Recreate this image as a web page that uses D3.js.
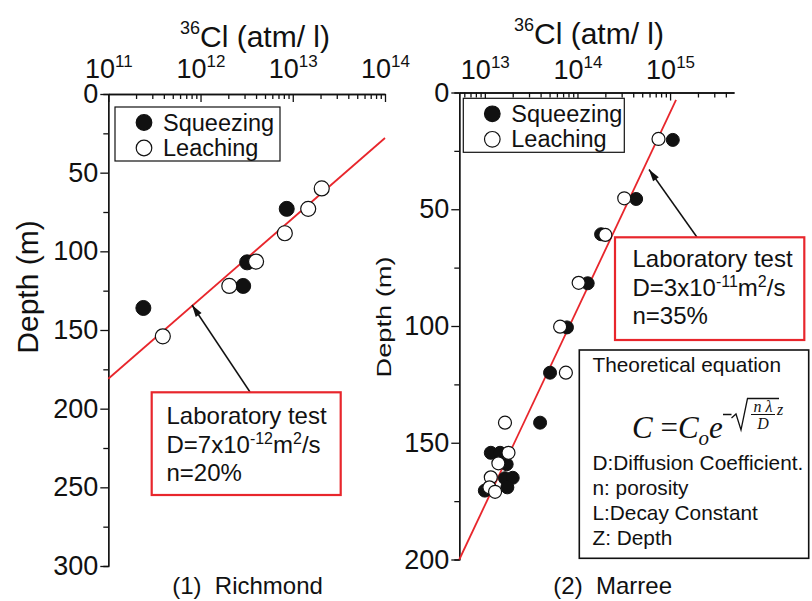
<!doctype html>
<meta charset="utf-8">
<body style="margin:0;background:#fff">

<div id="chart"></div>

<script src="https://d3js.org/d3.v7.min.js"></script>
<script>

// 36Cl concentration (atm/l) vs depth (m)

// (1) Richmond
const richmondSqueezing = [[8.6e12, 73], [3.2e12, 107], [2.9e12, 122], [2.4e11, 136]]
const richmondLeaching = [[2.06e13, 60], [1.47e13, 73], [8.2e12, 88.5], [4.0e12, 106.5], [2.05e12, 122], [3.9e11, 154]]
const richmondFit = [[1e11, 181], [1e14, 28]]
const richmondXTicks = [1e11, 1e12, 1e13, 1e14]
const richmondDepthTicks = [0, 50, 100, 150, 200, 250, 300]

// (2) Marree
const marreeSqueezing = [
  [1.07e15, 20.3], [4.3e14, 45.6], [1.8e14, 60.7], [1.29e14, 81.7], [7.7e13, 100.6],
  [5.06e13, 120], [3.95e13, 141.4], [1.16e13, 154.3], [1.46e13, 154.3], [1.72e13, 159.2],
  [1.65e13, 165.2], [2.0e13, 165], [1.75e13, 169.1], [1.0e13, 170.5]
]
const marreeLeaching = [
  [7.5e14, 19.9], [3.2e14, 45.3], [2.0e14, 61], [1.03e14, 81.5], [6.5e13, 100.3],
  [7.5e13, 120], [1.65e13, 141.4], [1.8e13, 154.3], [1.4e13, 158.8], [1.16e13, 164.8],
  [1.12e13, 169.1], [1.29e13, 171]
]
const marreeFit = [[5.3e12, 200], [1.16e15, 3.2]]
const marreeXTicks = [1e13, 1e14, 1e15]
const marreeDepthTicks = [0, 50, 100, 150, 200]

const RED = "#e8262c"

const svg = d3.select("#chart").append("svg")
  .attr("width", 812)
  .attr("height", 601)
  .style("font-family", "'Liberation Sans', Arial, Helvetica, sans-serif")

const defs = svg.append("defs")
defs.append("marker")
  .attr("id", "arrow")
  .attr("viewBox", "0 0 12 10")
  .attr("refX", 12).attr("refY", 5)
  .attr("markerWidth", 13).attr("markerHeight", 10)
  .attr("markerUnits", "userSpaceOnUse")
  .attr("orient", "auto")
  .append("path")
  .attr("d", "M0,1.5 L12,5 L0,8.5 Z")
  .attr("fill", "#111")

function isPow10(v) {
  const l = Math.log10(v)
  return Math.abs(l - Math.round(l)) < 1e-9
}

function drawPanel(p) {
  const x = d3.scaleLog().domain(p.xDomain).range(p.xRange)
  const y = d3.scaleLinear().domain(p.yDomain).range(p.yRange)
  const g = svg.append("g")

  // top log axis, ticks pointing into the plot
  const minor = x.ticks().filter(v => !isPow10(v))
  g.append("g")
    .attr("transform", `translate(0,${p.yRange[0]})`)
    .call(d3.axisTop(x).tickValues(minor).tickSizeInner(-5).tickSizeOuter(0).tickFormat(""))
  const top = g.append("g")
    .attr("transform", `translate(0,${p.yRange[0]})`)
    .call(d3.axisTop(x).tickValues(p.xTicks).tickSizeInner(-8).tickSizeOuter(0).tickPadding(p.xPad).tickFormat(""))
  top.selectAll(".tick text")
    .attr("font-size", 27)
    .attr("fill", "#111")
    .each(function (d) {
      const t = d3.select(this)
      t.append("tspan").text("10")
      t.append("tspan").attr("dy", -11).attr("font-size", 17).text(Math.round(Math.log10(d)))
    })

  // depth axis
  const yMinor = d3.range(25, p.yDomain[1], 50)
  g.append("g")
    .attr("transform", `translate(${p.xRange[0]},0)`)
    .call(d3.axisLeft(y).tickValues(yMinor).tickSize(5).tickFormat(""))
  g.append("g")
    .attr("transform", `translate(${p.xRange[0]},0)`)
    .call(d3.axisLeft(y).tickValues(p.yTicks).tickSize(8).tickSizeOuter(0).tickPadding(2))
    .selectAll(".tick text")
    .attr("font-size", 27)
    .attr("fill", "#111")

  g.selectAll(".domain, .tick line").attr("stroke", "#111").attr("stroke-width", 1.3)

  // axis titles
  const title = g.append("text")
    .attr("x", p.titleX).attr("y", p.titleY)
    .attr("text-anchor", "middle")
    .attr("font-size", 30)
    .attr("fill", "#111")
  title.append("tspan").attr("font-size", 18).attr("dy", -13).text("36")
  title.append("tspan").attr("dy", 13).text("Cl (atm/ l)")

  const ylab = g.append("text")
    .attr("transform", `translate(${p.yLabX},${p.yLabY}) rotate(-90)`)
    .attr("text-anchor", "middle")
    .attr("font-size", p.yLabSize)
    .attr("fill", "#111")
    .text("Depth (m)")
  if (p.yLabLen) ylab.attr("textLength", p.yLabLen).attr("lengthAdjust", "spacingAndGlyphs")

  // fitted line
  g.append("path")
    .datum(p.fit)
    .attr("d", d3.line().x(d => x(d[0])).y(d => y(d[1])))
    .attr("stroke", RED)
    .attr("stroke-width", 1.8)
    .attr("fill", "none")

  // points
  g.append("g").selectAll("circle")
    .data(p.squeezing)
    .join("circle")
    .attr("cx", d => x(d[0]))
    .attr("cy", d => y(d[1]))
    .attr("r", p.r)
    .attr("fill", "#111")
    .attr("stroke", "#111")
    .attr("stroke-width", 1)
  g.append("g").selectAll("circle")
    .data(p.leaching)
    .join("circle")
    .attr("cx", d => x(d[0]))
    .attr("cy", d => y(d[1]))
    .attr("r", p.r)
    .attr("fill", "#fff")
    .attr("stroke", "#111")
    .attr("stroke-width", 1.2)

  // legend
  const lg = g.append("g").attr("transform", `translate(${p.legend[0]},${p.legend[1]})`)
  lg.append("rect").attr("width", p.legend[2]).attr("height", 54)
    .attr("fill", "#fff").attr("stroke", "#111").attr("stroke-width", 1.2)
  const items = [["Squeezing", "#111"], ["Leaching", "#fff"]]
  items.forEach(([name, fill], i) => {
    lg.append("circle").attr("cx", 29).attr("cy", 15.5 + i * 25.5).attr("r", 7.8)
      .attr("fill", fill).attr("stroke", "#111").attr("stroke-width", 1.2)
    lg.append("text").attr("x", 48).attr("y", 23.5 + i * 25.5)
      .attr("font-size", 23.5).attr("fill", "#111").text(name)
  })

  // annotation box with arrow
  const a = p.note
  g.append("line")
    .attr("x1", a.from[0]).attr("y1", a.from[1])
    .attr("x2", a.to[0]).attr("y2", a.to[1])
    .attr("stroke", "#111").attr("stroke-width", 1.5)
    .attr("marker-end", "url(#arrow)")
  g.append("rect")
    .attr("x", a.box[0]).attr("y", a.box[1]).attr("width", a.box[2]).attr("height", a.box[3])
    .attr("fill", "#fff").attr("stroke", RED).attr("stroke-width", 2.2)
  const nt = g.append("g").attr("font-size", 24).attr("fill", "#111")
  nt.append("text").attr("x", a.tx).attr("y", a.ty).text("Laboratory test")
  const dl = nt.append("text").attr("x", a.tx).attr("y", a.ty + 28.5)
  dl.append("tspan").text(`D=${a.d}x10`)
  dl.append("tspan").attr("dy", -9).attr("font-size", 16).text(a.exp)
  dl.append("tspan").attr("dy", 9).text("m")
  dl.append("tspan").attr("dy", -9).attr("font-size", 16).text("2")
  dl.append("tspan").attr("dy", 9).text("/s")
  nt.append("text").attr("x", a.tx).attr("y", a.ty + 57).text(`n=${a.n}`)

  // bottom caption
  g.append("text")
    .attr("x", p.capX).attr("y", 594)
    .attr("text-anchor", "middle")
    .attr("font-size", 24)
    .attr("fill", "#111")
    .style("white-space", "pre")
    .text(p.caption)

  return { x, y, g }
}

drawPanel({
  xDomain: [1e11, 1e14], xRange: [108.3, 385],
  yDomain: [0, 300], yRange: [94, 566],
  xTicks: richmondXTicks, yTicks: richmondDepthTicks, xPad: 16,
  titleX: 255, titleY: 47,
  yLabX: 38, yLabY: 287, yLabSize: 30,
  fit: richmondFit, squeezing: richmondSqueezing, leaching: richmondLeaching, r: 7.5,
  legend: [115, 107, 165],
  note: { from: [250, 392], to: [192, 305], box: [151.7, 392.3, 189, 102.7],
          tx: 166.5, ty: 424, d: "7", exp: "-12", n: "20%" },
  capX: 247.5, caption: "(1)  Richmond"
})

drawPanel({
  xDomain: [5.3e12, 4.9e15], xRange: [459.3, 734],
  yDomain: [0, 200], yRange: [92.5, 559.5],
  xTicks: marreeXTicks, yTicks: marreeDepthTicks, xPad: 14,
  titleX: 589, titleY: 44,
  yLabX: 391, yLabY: 317, yLabSize: 21, yLabLen: 121,
  fit: marreeFit, squeezing: marreeSqueezing, leaching: marreeLeaching, r: 6.5,
  legend: [463.3, 98.3, 161],
  note: { from: [697, 237.3], to: [649, 169.5], box: [615, 237.3, 189.3, 102.7],
          tx: 632.5, ty: 267.3, d: "3", exp: "-11", n: "35%" },
  capX: 612.7, caption: "(2)  Marree"
})

// theoretical equation box
const eq = svg.append("g").attr("fill", "#111")
eq.append("rect")
  .attr("x", 579.3).attr("y", 350).attr("width", 229.4).attr("height", 208.3)
  .attr("fill", "#fff").attr("stroke", "#111").attr("stroke-width", 1.6)
eq.append("text").attr("x", 592.5).attr("y", 372).attr("font-size", 20.8).text("Theoretical equation")

const serif = "'Liberation Serif', 'Times New Roman', serif"
const formula = eq.append("text")
  .attr("x", 632).attr("y", 438)
  .attr("font-family", serif).attr("font-style", "italic").attr("font-size", 31)
formula.append("tspan").text("C ")
formula.append("tspan").attr("font-style", "normal").text("=")
formula.append("tspan").text("C")
formula.append("tspan").attr("dy", 7).attr("font-size", 21).text("o")
formula.append("tspan").attr("dy", -7).text("e")
// exponent: -sqrt(n lambda / D) z
eq.append("path")
  .attr("d", "M723,414.5 H731.5 M731.5,418 L736,414 L741,430 L747.5,398.5 H779")
  .attr("fill", "none").attr("stroke", "#111").attr("stroke-width", 1.3)
eq.append("text").attr("x", 763).attr("y", 411.5).attr("text-anchor", "middle")
  .attr("font-family", serif).attr("font-style", "italic").attr("font-size", 16).text("n λ")
eq.append("line").attr("x1", 751).attr("x2", 775).attr("y1", 414.5).attr("y2", 414.5)
  .attr("stroke", "#111").attr("stroke-width", 1)
eq.append("text").attr("x", 763).attr("y", 429).attr("text-anchor", "middle")
  .attr("font-family", serif).attr("font-style", "italic").attr("font-size", 16).text("D")
eq.append("text").attr("x", 777).attr("y", 415)
  .attr("font-family", serif).attr("font-style", "italic").attr("font-size", 16).text("z")

const defsLines = ["D:Diffusion Coefficient.", "n: porosity", "L:Decay Constant", "Z: Depth"]
eq.selectAll("text.def")
  .data(defsLines)
  .join("text")
  .attr("class", "def")
  .attr("x", 592.5)
  .attr("y", (d, i) => 470 + i * 25)
  .attr("font-size", 20.8)
  .text(d => d)

</script>
</body>
